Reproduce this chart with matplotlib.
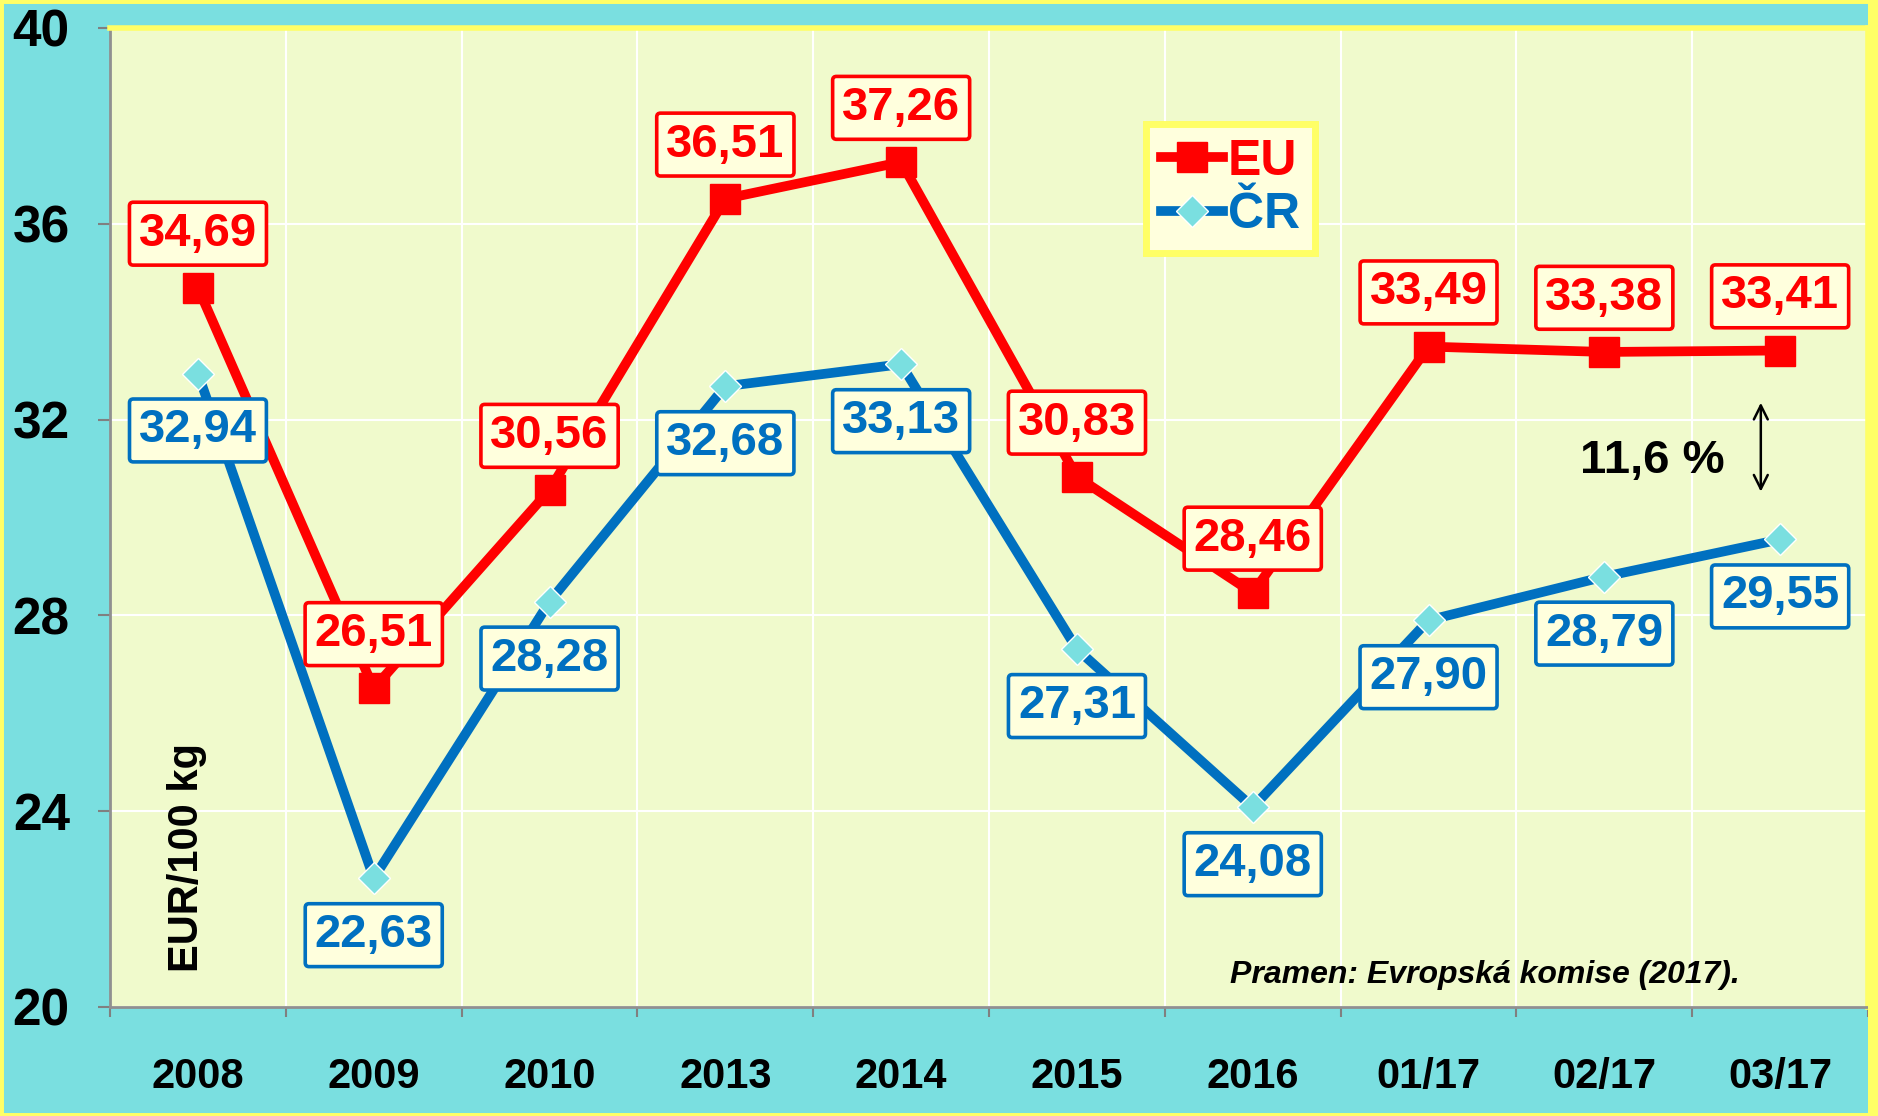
import matplotlib.pyplot as plt
from matplotlib.patches import Rectangle

categories = ["2008", "2009", "2010", "2013", "2014", "2015", "2016", "01/17", "02/17", "03/17"]
eu_values = [34.69, 26.51, 30.56, 36.51, 37.26, 30.83, 28.46, 33.49, 33.38, 33.41]
cr_values = [32.94, 22.63, 28.28, 32.68, 33.13, 27.31, 24.08, 27.90, 28.79, 29.55]

RED = "#FF0000"
BLUE = "#0070C0"
CYAN = "#7ADFE0"
YELLOW = "#FFFF66"
PLOT_BG = "#F0FACC"
BOX_BG = "#FFFFDD"

plt.rcParams["font.family"] = ["Liberation Sans", "DejaVu Sans"]
plt.rcParams["font.weight"] = "bold"
NARROW = ["Liberation Sans Narrow", "Liberation Sans", "DejaVu Sans"]


def fmt(v):
    return f"{v:.2f}".replace(".", ",")


def main():
    fig = plt.figure(figsize=(18.78, 11.16), dpi=100, facecolor=CYAN)
    ax = fig.add_axes([0.0586, 0.0977, 0.9361, 0.8773])
    ax.set_facecolor(PLOT_BG)

    # figure frame: thin yellow border, wider yellow strip on the right
    fig.patches.append(Rectangle((0, 0), 1, 1, transform=fig.transFigure,
                                 fill=False, edgecolor=YELLOW, lw=5, zorder=0))
    fig.patches.append(Rectangle((0.9947, 0), 0.0053, 1, transform=fig.transFigure,
                                 facecolor=YELLOW, edgecolor="none", zorder=0))

    x = [i + 0.5 for i in range(len(categories))]

    ax.plot(x, eu_values, color=RED, lw=7, marker="s", markersize=22,
            markerfacecolor=RED, markeredgecolor=RED, label="EU", zorder=4)
    ax.plot(x, cr_values, color=BLUE, lw=7, marker="D", markersize=16,
            markerfacecolor=CYAN, markeredgecolor="white", markeredgewidth=1,
            label="ČR", zorder=4)

    for xi, v in zip(x, eu_values):
        ax.annotate(fmt(v), (xi, v), xytext=(0, 39), textcoords="offset points",
                    ha="center", va="center", fontsize=34, color=RED, fontweight="bold",
                    bbox=dict(boxstyle="round,pad=0.2,rounding_size=0.08", fc=BOX_BG,
                              ec=RED, lw=2.6),
                    zorder=6)
    for xi, v in zip(x, cr_values):
        ax.annotate(fmt(v), (xi, v), xytext=(0, -41), textcoords="offset points",
                    ha="center", va="center", fontsize=34, color=BLUE, fontweight="bold",
                    bbox=dict(boxstyle="round,pad=0.2,rounding_size=0.08", fc=BOX_BG,
                              ec=BLUE, lw=2.6),
                    zorder=6)

    ax.set_xlim(0, len(categories))
    ax.set_ylim(20, 40)

    ax.set_xticks(range(len(categories) + 1))
    ax.set_xticklabels([])
    ax.set_xticks(x, minor=True)
    ax.set_xticklabels(categories, minor=True, fontsize=30, fontweight="bold", family=NARROW)
    ax.tick_params(axis="x", which="major", direction="out", length=7, width=1.5,
                   color="#808080")
    ax.tick_params(axis="x", which="minor", length=0, pad=36)

    ax.set_yticks(range(20, 41, 4))
    ax.tick_params(axis="y", direction="out", length=9, width=1.5, color="#808080",
                   labelsize=37, pad=20)

    ax.grid(True, which="major", color="white", lw=1.5, zorder=1)
    ax.set_axisbelow(True)

    for side in ["top", "right"]:
        ax.spines[side].set_color(YELLOW)
        ax.spines[side].set_linewidth(4)
    for side in ["left", "bottom"]:
        ax.spines[side].set_color("#909090")
        ax.spines[side].set_linewidth(2)

    ax.text(0.44, 23.06, "EUR/100 kg", rotation=90, ha="center", va="center",
            fontsize=30, fontweight="bold", color="black", zorder=5)

    ax.annotate("", xy=(9.39, 32.4), xytext=(9.39, 30.47),
                arrowprops=dict(arrowstyle="<->", color="black", lw=1.8,
                                mutation_scale=25), zorder=5)
    ax.text(8.77, 31.16, "11,6 %", ha="center", va="center", fontsize=34,
            fontweight="bold", color="black", zorder=5)

    ax.text(6.37, 20.65, "Pramen: Evropská komise (2017).", ha="left", va="center",
            fontsize=23, fontweight="bold", style="italic", family=NARROW,
            color="black", zorder=5)

    leg = ax.legend(loc="upper left", bbox_to_anchor=(0.589, 0.902), frameon=True,
                    fontsize=36, handlelength=1.25, handletextpad=0.1,
                    borderpad=0.3, labelspacing=0.15, borderaxespad=0, fancybox=False)
    leg.get_frame().set_facecolor(BOX_BG)
    leg.get_frame().set_edgecolor(YELLOW)
    leg.get_frame().set_linewidth(5)
    leg.get_frame().set_alpha(1)
    for text, col in zip(leg.get_texts(), [RED, BLUE]):
        text.set_color(col)
        text.set_fontweight("bold")

    fig.savefig("out.png", dpi=100, facecolor=fig.get_facecolor())


if __name__ == "__main__":
    main()
